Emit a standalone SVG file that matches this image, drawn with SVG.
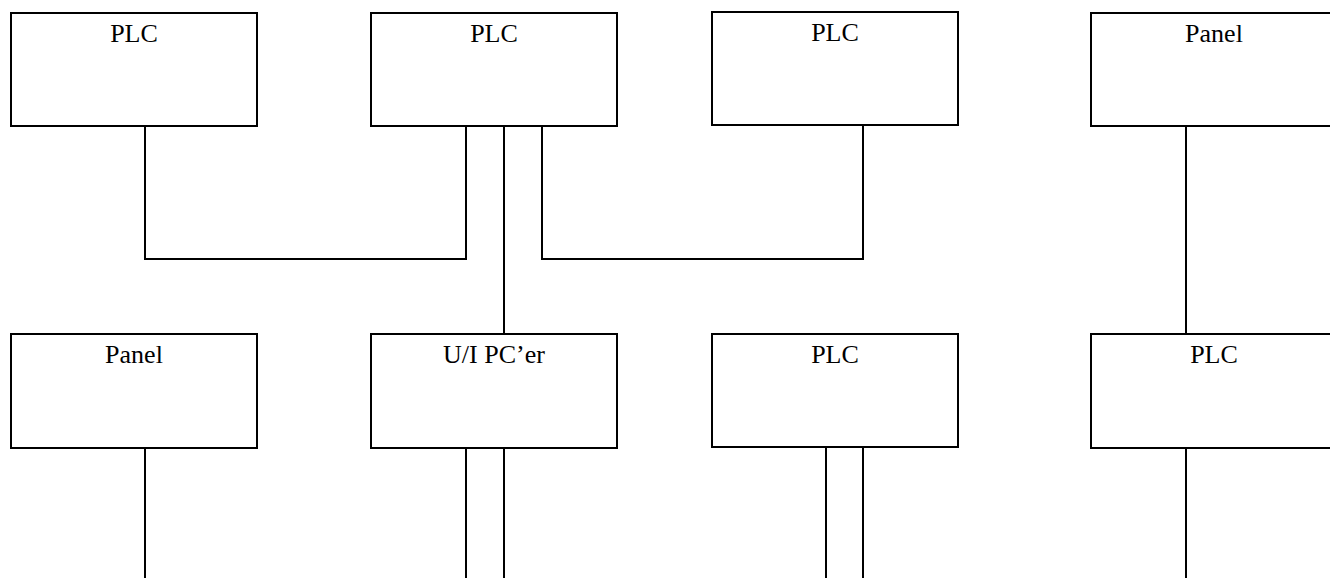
<svg xmlns="http://www.w3.org/2000/svg" width="1330" height="578" viewBox="0 0 1330 578">
<style>
.box{fill:#fff;stroke:#000;stroke-width:2}
.lbl{font-family:"Liberation Serif","Times New Roman",serif;font-size:26px;fill:#000;text-anchor:middle}
.wire{fill:none;stroke:#000;stroke-width:2}
</style>
<rect width="1330" height="578" fill="#fff"/>
<g id="connectors">
<polyline class="wire" points="145,126 145,259 466,259 466,126"/>
<polyline class="wire" points="542,126 542,259 863,259 863,126"/>
<line class="wire" x1="504" y1="126" x2="504" y2="334"/>
<line class="wire" x1="1186" y1="126" x2="1186" y2="334"/>
<line class="wire" x1="145" y1="448" x2="145" y2="578"/>
<line class="wire" x1="466" y1="448" x2="466" y2="578"/>
<line class="wire" x1="504" y1="448" x2="504" y2="578"/>
<line class="wire" x1="826" y1="448" x2="826" y2="578"/>
<line class="wire" x1="863" y1="448" x2="863" y2="578"/>
<line class="wire" x1="1186" y1="448" x2="1186" y2="578"/>
</g>
<g id="plc1"><rect class="box" x="11" y="13" width="246" height="113"/><text class="lbl" x="134" y="42">PLC</text></g>
<g id="plc2"><rect class="box" x="371" y="13" width="246" height="113"/><text class="lbl" x="494" y="42">PLC</text></g>
<g id="plc3"><rect class="box" x="712" y="12" width="246" height="113"/><text class="lbl" x="835" y="41">PLC</text></g>
<g id="panel1"><rect class="box" x="1091" y="13" width="246" height="113"/><text class="lbl" x="1214" y="42">Panel</text></g>
<g id="panel2"><rect class="box" x="11" y="334" width="246" height="114"/><text class="lbl" x="134" y="363">Panel</text></g>
<g id="uipc"><rect class="box" x="371" y="334" width="246" height="114"/><text class="lbl" x="494" y="363">U/I PC’er</text></g>
<g id="plc4"><rect class="box" x="712" y="334" width="246" height="113"/><text class="lbl" x="835" y="363">PLC</text></g>
<g id="plc5"><rect class="box" x="1091" y="334" width="246" height="114"/><text class="lbl" x="1214" y="363">PLC</text></g>
</svg>
